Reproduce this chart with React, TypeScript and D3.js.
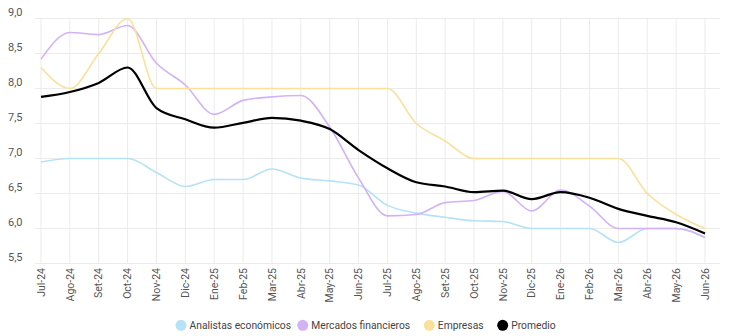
import React from "react";
import * as d3 from "d3";

const months = ["Jul-24","Ago-24","Set-24","Oct-24","Nov-24","Dic-24","Ene-25","Feb-25","Mar-25","Abr-25","May-25","Jun-25","Jul-25","Ago-25","Set-25","Oct-25","Nov-25","Dic-25","Ene-26","Feb-26","Mar-26","Abr-26","May-26","Jun-26"];
const analistas = [6.95,7.0,7.0,7.0,6.8,6.6,6.7,6.7,6.85,6.72,6.68,6.62,6.33,6.22,6.16,6.11,6.1,6.0,6.0,6.0,5.8,6.0,6.0,5.87];
const mercados = [8.42,8.8,8.77,8.9,8.36,8.05,7.63,7.83,7.88,7.9,7.45,6.72,6.18,6.2,6.37,6.4,6.53,6.25,6.55,6.32,6.0,6.0,6.0,5.87];
const empresas = [8.3,8.0,8.5,9.0,8.0,8.0,8.0,8.0,8.0,8.0,8.0,8.0,8.0,7.5,7.25,7.0,7.0,7.0,7.0,7.0,7.0,6.5,6.2,6.0];
const promedio = [7.88,7.95,8.08,8.3,7.72,7.56,7.44,7.51,7.58,7.54,7.42,7.12,6.86,6.66,6.6,6.52,6.54,6.42,6.52,6.44,6.28,6.18,6.09,5.93];
const yTicks = [5.5,6.0,6.5,7.0,7.5,8.0,8.5,9.0];

const seriesNames = ["Analistas económicos","Mercados financieros","Empresas","Promedio"];
const seriesData = [analistas, mercados, empresas, promedio];
const colors = ["#b5e2f7","#d2b2f4","#fbe09a","#000000"];
const widths = [1.6,1.6,1.6,2.2];

export default function App() {
  const W = 730, H = 336;
  const x = d3.scalePoint<string>().domain(months).range([41, 705]);
  const y = d3.scaleLinear().domain([5.5, 9.0]).range([263.5, 18.5]);
  const line = d3.line<number>()
    .x((_, i) => x(months[i]) as number)
    .y(d => y(d))
    .curve(d3.curveMonotoneX);
  const fmt = (v: number) => v.toFixed(1).replace(".", ",");
  const font = "Roboto, 'Open Sans', sans-serif";

  const legendX = [181, 302.7, 429.3, 502.7];

  return (
    <svg width={W} height={H} style={{ position: "absolute", left: 0, top: 0, background: "#fff" }} fontFamily={font}>
      {yTicks.map(t => (
        <g key={t}>
          <line x1={35} x2={720} y1={y(t)} y2={y(t)} stroke="#ebebeb" strokeWidth={1} />
          <text x={8} y={y(t) - 3} fontSize={11} fill="#555">{fmt(t)}</text>
        </g>
      ))}
      {months.map(m => (
        <g key={m}>
          <line x1={x(m)} x2={x(m)} y1={18.5} y2={263.5} stroke="#ebebeb" strokeWidth={1} />
          <text transform={`translate(${x(m)},268) rotate(-90)`} textAnchor="end" dy="0.35em" fontSize={10.5} fill="#555">{m}</text>
        </g>
      ))}
      {seriesData.map((s, i) => (
        <path key={i} d={line(s) || ""} fill="none" stroke={colors[i]} strokeWidth={widths[i]} />
      ))}
      {seriesNames.map((n, i) => (
        <g key={n}>
          <circle cx={legendX[i]} cy={325.3} r={5.5} fill={colors[i]} />
          <text x={legendX[i] + 8.5} y={325.3} dy="0.35em" fontSize={10.3} fill="#444">{n}</text>
        </g>
      ))}
    </svg>
  );
}
